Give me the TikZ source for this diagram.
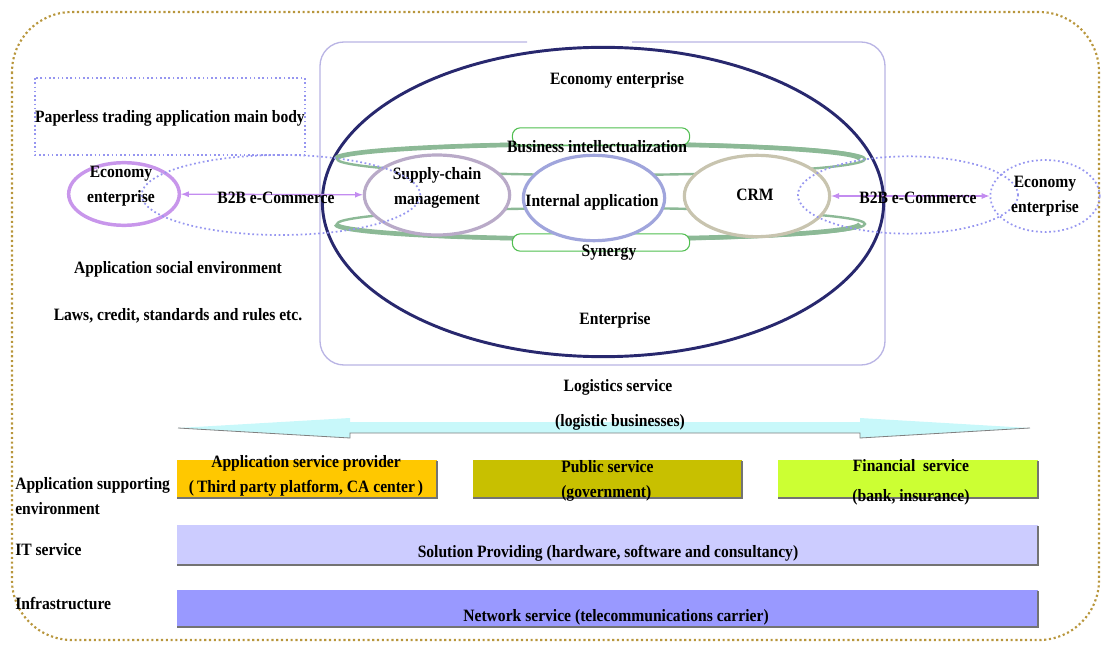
\documentclass[tikz,border=0pt]{standalone}
\usepackage{fontspec}
\setmainfont{Liberation Serif}[FakeStretch=0.9]
\usepackage{xcolor}
\usetikzlibrary{shapes.geometric}
\definecolor{dotgold}{RGB}{184,150,60}
\definecolor{frameline}{RGB}{185,180,228}
\definecolor{navy}{RGB}{40,40,110}
\definecolor{ringgreen}{RGB}{140,185,150}
\definecolor{pillgreen}{RGB}{80,190,80}
\definecolor{scmline}{RGB}{185,170,200}
\definecolor{intline}{RGB}{160,165,220}
\definecolor{crmline}{RGB}{200,196,175}
\definecolor{b2bpurple}{RGB}{195,140,240}
\definecolor{dotblue}{RGB}{150,150,240}
\definecolor{econpurple}{RGB}{200,150,235}
\definecolor{logicyan}{RGB}{200,248,250}
\definecolor{aspyellow}{RGB}{255,200,0}
\definecolor{pubolive}{RGB}{200,192,0}
\definecolor{finlime}{RGB}{204,255,51}
\definecolor{itlav}{RGB}{204,204,255}
\definecolor{netblue}{RGB}{153,153,255}

\begin{document}
\begin{tikzpicture}[x=0.75pt,y=-0.75pt,
  font=\bfseries\fontsize{13}{18.5}\selectfont,
  txt/.style={inner sep=0pt,align=center},
  lbl/.style={inner sep=0pt,anchor=west,align=left},
  ring/.style={ellipse,inner sep=0pt,fill=white,line width=2.4pt},
  dotring/.style={ellipse,inner sep=0pt,draw=dotblue,dotted,line width=1.3pt},
  b2b/.style={<->,>=latex,draw=b2bpurple,line width=1pt},
  pill/.style={draw=pillgreen,fill=white,rounded corners=6pt,line width=0.8pt,inner sep=0pt},
  shade/.style={line width=1.2pt,black!55}]
  \useasboundingbox (0,0) rectangle (1103,649);
  % outer frame
  \draw[dotgold,dotted,line width=1.6pt,rounded corners=45pt] (12,12) rectangle (1099,640);
  \draw[dotblue,dotted,line width=1.2pt] (35,78) rectangle (305,155);
  \node[txt] (body) at (170,118) {Paperless trading application main body};
  % enterprise frame
  \draw[frameline,line width=1pt,rounded corners=18pt] (527,42) -- (320,42) -- (320,365) -- (885,365) -- (885,42) -- (632,42);
  \node[ellipse,draw=navy,line width=2.2pt,minimum width=421pt,minimum height=232pt] (ent) at (603,202) {};
  \node[txt] (econ) at (617,80) {Economy enterprise};
  \node[txt] (entlabel) at (615,320) {Enterprise};
  % green rings
  \node[ellipse,draw=ringgreen,line width=1.8pt,minimum width=396pt,minimum height=24pt] (ringtop) at (601,159) {};
  \node[ellipse,draw=ringgreen,line width=1.8pt,minimum width=396pt,minimum height=24pt] (ringbot) at (601,224) {};
  \draw[ringgreen,line width=3.5pt] (ringtop.west) arc[start angle=180,end angle=360,x radius=262,y radius=15];
  \draw[ringgreen,line width=3.5pt] (ringbot.west) arc[start angle=180,end angle=0,x radius=262,y radius=15];
  \node[pill,minimum width=133pt,minimum height=13pt] (bizbox) at (601,136.5) {};
  \node[pill,minimum width=133pt,minimum height=13pt] (synbox) at (601,242.5) {};
  % inner applications
  \node[ring,draw=scmline,minimum width=109pt,minimum height=60pt] (scm) at (437,195) {};
  \node[ring,draw=intline,minimum width=106pt,minimum height=64pt] (internal) at (594,198) {};
  \node[ring,draw=crmline,minimum width=109pt,minimum height=61pt] (crm) at (757,196) {};
  \node[txt] (biz) at (597,147) {Business intellectualization};
  \node[txt] (syn) at (609,253) {Synergy};
  \node[txt] (scmtext) at (437,188) {Supply-chain\\management};
  \node[txt] (inttext) at (592,202) {Internal application};
  \node[txt] (crmtext) at (755,195) {CRM};
  % left partner
  \node[ellipse,draw=econpurple,fill=white,line width=2.6pt,minimum width=83pt,minimum height=47pt] (econL) at (124,194) {};
  \node[txt] (econLtext) at (121,186) {Economy\\enterprise};
  \node[dotring,minimum width=209pt,minimum height=60pt] (dotL) at (281,195) {};
  \draw[b2b] (econL) -- (scm);
  \node[txt] (b2bL) at (276,198) {B2B e-Commerce};
  % right partner
  \node[dotring,minimum width=165pt,minimum height=58pt] (dotR) at (908,195) {};
  \node[dotring,align=center,minimum width=82pt,minimum height=54pt] (econR) at (1045,196) {Economy\\enterprise};
  \draw[b2b] (crm) -- (econR);
  \node[txt] (b2bR) at (918,198) {B2B e-Commerce};
  % social environment
  \node[txt] (social) at (178,269) {Application social environment};
  \node[txt] (laws) at (178,316) {Laws, credit, standards and rules etc.};
  % logistics
  \node[txt] (logi) at (618,387) {Logistics service};
  \fill[logicyan] (178,428) -- (350,418) -- (350,422) -- (860,422) -- (860,418)
    -- (1030,428) -- (860,438) -- (860,433) -- (350,433) -- (350,438) -- cycle;
  \draw[gray,line width=0.6pt] (178,428) -- (350,438) -- (350,433) -- (860,433) -- (860,438) -- (1030,428);
  \node[txt] (logibiz) at (620,422) {(logistic businesses)};
  % supporting services
  \fill[aspyellow] (177,460) rectangle (437,498);
  \draw[shade] (177,498) -- (437,498) -- (437,461);
  \fill[pubolive] (473,460) rectangle (742,498);
  \draw[shade] (473,498) -- (742,498) -- (742,461);
  \fill[finlime] (778,460) rectangle (1038,498);
  \draw[shade] (778,498) -- (1038,498) -- (1038,461);
  \node[txt] (asp) at (306,476) {Application service provider\\(\,Third party platform, CA center\,)};
  \node[lbl] (pub) at (561,481) {Public service\\(government)};
  \node[txt] (fin) at (911,466) {Financial\ \ service};
  \node[txt] (finsub) at (911,497) {(bank, insurance)};
  \fill[itlav] (177,525) rectangle (1038,565);
  \draw[shade] (177,565) -- (1038,565) -- (1038,526);
  \node[txt] (itsol) at (608,553) {Solution Providing (hardware, software and consultancy)};
  \fill[netblue] (177,590) rectangle (1038,627);
  \draw[shade] (177,627) -- (1038,627) -- (1038,591);
  \node[txt] (net) at (616,617) {Network service (telecommunications carrier)};
  % layer labels
  \node[lbl] (support) at (15,496) {Application supporting\\environment};
  \node[lbl] (itserv) at (15,550) {IT service};
  \node[lbl] (infra) at (15,603) {Infrastructure};
\end{tikzpicture}
\end{document}
